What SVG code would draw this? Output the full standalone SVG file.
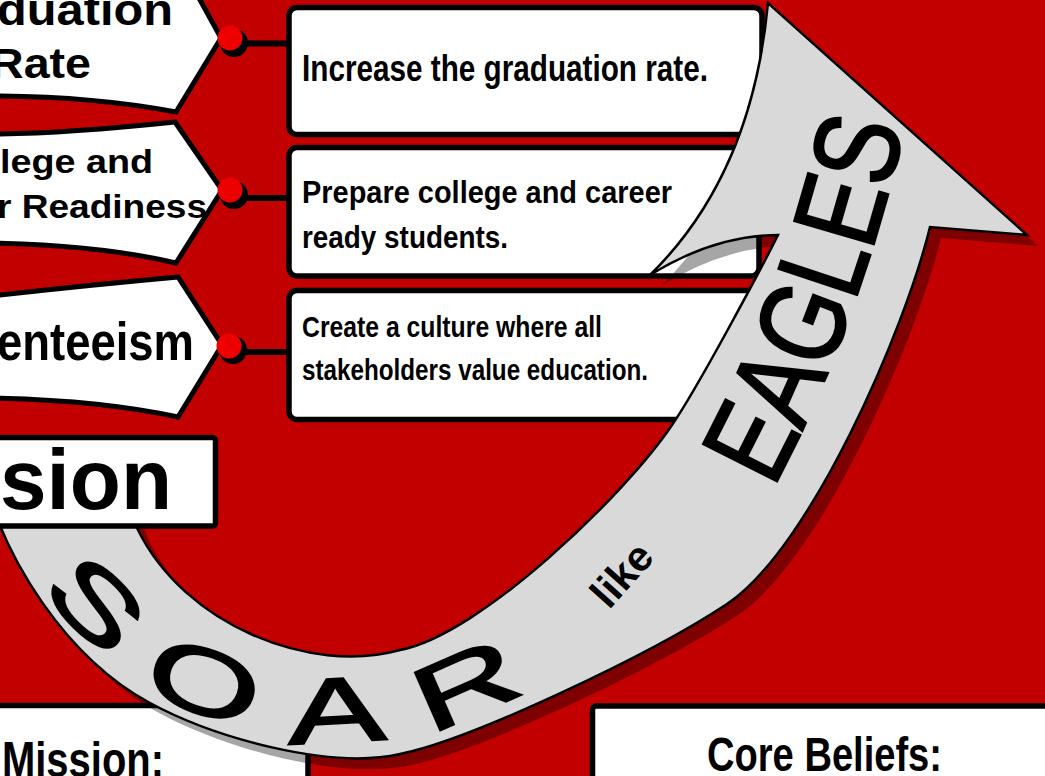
<svg xmlns="http://www.w3.org/2000/svg" xmlns:xlink="http://www.w3.org/1999/xlink" width="1045" height="776" viewBox="0 0 1045 776">
<defs>
<style>
.lbl{fill:#fff;stroke:#000;stroke-width:5;stroke-linejoin:miter}
.box{fill:#fff;stroke:#000;stroke-width:5.5}
.ltxt{font-family:"Liberation Sans",Arial,sans-serif;font-weight:bold;fill:#000}
.btxt{font-family:"Liberation Sans",Arial,sans-serif;font-weight:bold;fill:#000}
.arw{font-family:"Liberation Sans",Arial,sans-serif;fill:#000}
.dot{fill:#ee0000}
.dsh{fill:#000}
.con{stroke:#000;stroke-width:6;fill:none}
</style>
<path id="arrowShape" d="M -20 460 C 0 560 70 660 150 703 C 215 738 330 770 400 754 C 470 740 650 655 727 604 C 810 549 905 330 930 227 L 1027 235 L 768 3 Q 752 175 650 275 Q 715 235 778 235 C 760 271 697 389 672 425 C 625 495 480 635 400 650 C 310 675 185 625 138 530 C 128 505 115 475 108 450 Z"/>
<path id="soarPath" d="M 25 545 C 60 640 170 735 333 741 C 430 744 520 700 600 650" fill="none"/>
<path id="eaglesPath" d="M 768 497 Q 860 330 908 112" fill="none"/>
</defs>
<rect x="0" y="0" width="1045" height="776" fill="#c30000"/>

<g id="label-graduation">
<path class="lbl" d="M -10 -40 L 178 -40 L 221 38 L 176 112 Q 90 96 -10 96 Z"/>
<text class="ltxt" x="-3" y="25" font-size="45" textLength="176" lengthAdjust="spacingAndGlyphs">duation</text>
<text class="ltxt" x="-10" y="78" font-size="42" textLength="101" lengthAdjust="spacingAndGlyphs">Rate</text>
</g>
<g id="label-college">
<path class="lbl" d="M -10 134 Q 60 134 175 122 L 222 190 L 176 263 Q 100 245 -10 243 Z"/>
<text class="ltxt" x="0" y="173" font-size="34" textLength="153" lengthAdjust="spacingAndGlyphs">lege and</text>
<text class="ltxt" x="-3" y="218" font-size="34" textLength="210" lengthAdjust="spacingAndGlyphs">r Readiness</text>
</g>
<g id="label-absenteeism">
<path class="lbl" d="M -10 296 Q 90 285 178 277 L 222 345 L 178 417 Q 100 400 -10 398 Z"/>
<text class="ltxt" x="-3" y="360" font-size="54" textLength="197" lengthAdjust="spacingAndGlyphs">enteeism</text>
</g>

<g id="connectors">
<line class="con" x1="234" y1="43.5" x2="290" y2="43.5"/>
<line class="con" x1="234" y1="198" x2="290" y2="198"/>
<line class="con" x1="233" y1="352" x2="290" y2="352"/>
<circle class="dsh" cx="234" cy="43" r="14"/>
<circle class="dot" cx="230" cy="38" r="12.5"/>
<circle class="dsh" cx="234" cy="195" r="14"/>
<circle class="dot" cx="230" cy="190" r="12.5"/>
<circle class="dsh" cx="233" cy="350" r="14"/>
<circle class="dot" cx="229" cy="346" r="12.5"/>
</g>

<g id="goal-graduation">
<rect class="box" x="289" y="7.5" width="473" height="127" rx="8"/>
<text class="btxt" x="302" y="81" font-size="37" textLength="406" lengthAdjust="spacingAndGlyphs">Increase the graduation rate.</text>
</g>
<g id="goal-college">
<rect class="box" x="289" y="147.5" width="470" height="128.5" rx="8"/>
<text class="btxt" x="302" y="203" font-size="32" textLength="370" lengthAdjust="spacingAndGlyphs">Prepare college and career</text>
<text class="btxt" x="302" y="248" font-size="32" textLength="206" lengthAdjust="spacingAndGlyphs">ready students.</text>
</g>
<g id="goal-culture">
<rect class="box" x="289" y="290.5" width="470" height="129" rx="8"/>
<text class="btxt" x="302" y="337" font-size="30" textLength="300" lengthAdjust="spacingAndGlyphs">Create a culture where all</text>
<text class="btxt" x="302" y="380" font-size="30" textLength="346" lengthAdjust="spacingAndGlyphs">stakeholders value education.</text>
</g>

<g id="mission">
<rect class="box" x="-10" y="705.5" width="318" height="100" rx="4"/>
<text class="btxt" x="2" y="777" font-size="50" textLength="162" lengthAdjust="spacingAndGlyphs">Mission:</text>
</g>
<g id="core-beliefs">
<rect class="box" x="592.5" y="706" width="470" height="100" rx="4"/>
<text class="btxt" x="707" y="771" font-size="49" textLength="235" lengthAdjust="spacingAndGlyphs">Core Beliefs:</text>
</g>

<g id="arrow">
<use xlink:href="#arrowShape" href="#arrowShape" transform="translate(11,11)" fill="#000" fill-opacity="0.35"/>
<use xlink:href="#arrowShape" href="#arrowShape" fill="#d9d9d9" stroke="#000" stroke-width="2.5" stroke-linejoin="miter"/>
<text class="arw" font-size="92" letter-spacing="26" stroke="#000" stroke-width="2"><textPath xlink:href="#soarPath" href="#soarPath" startOffset="46" textLength="584" lengthAdjust="spacingAndGlyphs">SOAR</textPath></text>
<text class="arw" font-size="42" font-weight="bold" text-anchor="middle" transform="translate(622,575) rotate(-48)" x="0" y="14">like</text>
<text class="arw" font-size="120" stroke="#000" stroke-width="2.5"><textPath xlink:href="#eaglesPath" href="#eaglesPath" startOffset="10" textLength="385" lengthAdjust="spacingAndGlyphs">EAGLES</textPath></text>
</g>

<g id="vision">
<rect class="box" x="-10" y="437.5" width="225.5" height="88.5" rx="3"/>
<text class="ltxt" x="0" y="509" font-size="86" textLength="172" lengthAdjust="spacingAndGlyphs">sion</text>
</g>
</svg>
